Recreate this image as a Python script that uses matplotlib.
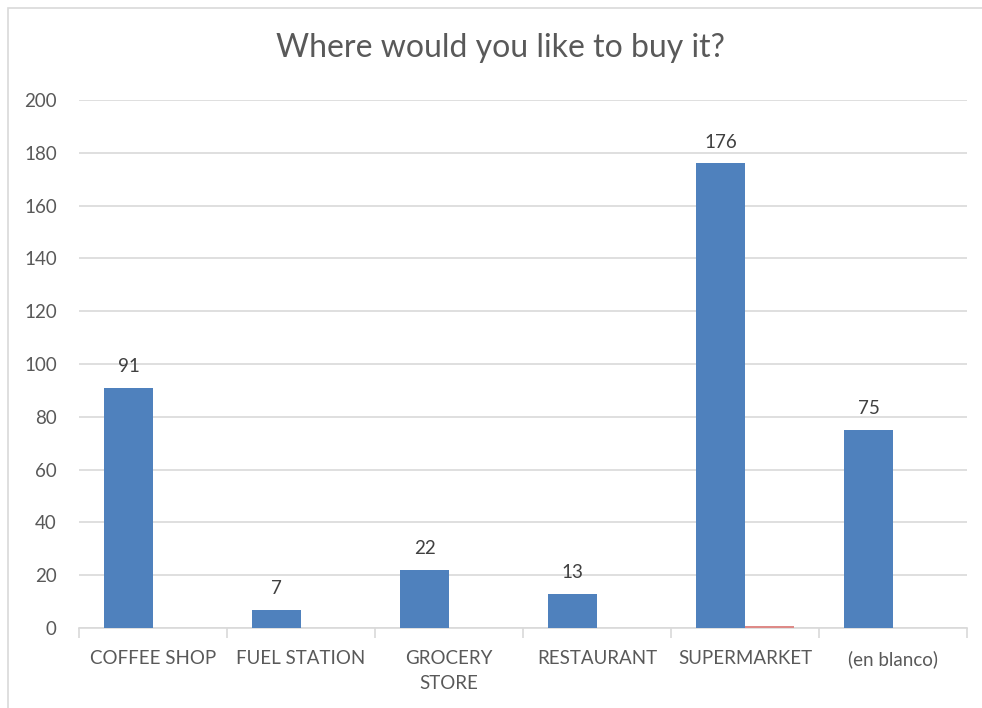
import matplotlib.pyplot as plt
import numpy as np
from matplotlib.patches import Rectangle

plt.rcParams['font.family'] = ['Lato', 'DejaVu Sans']

categories = ['COFFEE SHOP', 'FUEL STATION', 'GROCERY\nSTORE', 'RESTAURANT', 'SUPERMARKET', '(en blanco)']
counts = [91, 7, 22, 13, 176, 75]
other = [0, 0, 0, 0, 0.6, 0]

blue = '#4F81BD'
red = '#DE8A87'
text_col = '#595959'
grid_col = '#D9D9D9'

fig = plt.figure(figsize=(9.82, 7.08), dpi=100)
ax = fig.add_axes([79 / 982, 1 - 628 / 708, 888 / 982, 528 / 708])

# chart frame
fig.patches.append(Rectangle((8 / 982, -0.1), 1.1, 1 - 8 / 708 + 0.1, transform=fig.transFigure,
                             fill=False, edgecolor=grid_col, linewidth=1.2))

x = np.arange(len(categories))
w = 0.331
bars = ax.bar(x - w / 2, counts, w, color=blue, zorder=3)
ax.bar(x + w / 2, other, w, color=red, zorder=3)

for b, v in zip(bars, counts):
    ax.annotate(str(v), (b.get_x() + b.get_width() / 2, v), xytext=(0, 9),
                textcoords='offset points', ha='center', va='bottom',
                fontsize=13.5, color='#404040')

ax.set_xlim(-0.5, len(categories) - 0.5)
ax.set_ylim(0, 200)
ax.set_yticks(range(0, 201, 20))
ax.yaxis.grid(True, color=grid_col, linewidth=1.2, zorder=0)
ax.set_axisbelow(True)

ax.set_xticks(x)
ax.set_xticklabels(categories, fontsize=13.5, color=text_col, linespacing=1.55)
ax.set_xticks(np.arange(-0.5, len(categories)), minor=True)
ax.tick_params(axis='x', which='major', length=0, pad=16)
ax.tick_params(axis='x', which='minor', length=7, width=1.2, color=grid_col)
ax.tick_params(axis='y', length=0, labelsize=13.5, labelcolor=text_col, pad=16)

for s in ['top', 'right', 'left']:
    ax.spines[s].set_visible(False)
ax.spines['bottom'].set_color(grid_col)
ax.spines['bottom'].set_linewidth(1.2)

fig.text(0.51, 1 - 48 / 708, 'Where would you like to buy it?', ha='center', va='center',
         fontsize=23, color=text_col)

fig.savefig('out.png', dpi=100)
